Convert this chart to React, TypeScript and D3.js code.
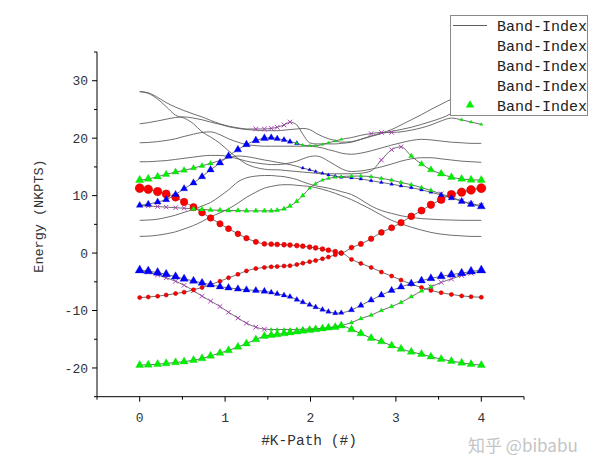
import React from 'react';
import * as d3 from 'd3';

// k-path grid (three path segments)
const K = [0, 0.10, 0.21, 0.31, 0.42, 0.52, 0.63, 0.73, 0.83, 0.94, 1.04, 1.15, 1.25, 1.36, 1.46,
  1.54, 1.61, 1.69, 1.76, 1.84, 1.91, 1.99, 2.06, 2.14, 2.21, 2.29, 2.36,
  2.48, 2.59, 2.71, 2.83, 2.95, 3.06, 3.18, 3.30, 3.41, 3.53, 3.65, 3.77, 3.88, 4.0];

// band energies (one value per k point)
const b1 = [-19.5, -19.45, -19.35, -19.2, -19.05, -18.9, -18.65, -18.35, -17.9, -17.4, -16.95, -16.35, -15.75, -15.05, -14.45,
  -14.3, -14.15, -14.0, -13.85, -13.7, -13.55, -13.4, -13.3, -13.15, -13.0, -12.9, -12.65,
  -13.3, -14.0, -14.8, -15.4, -16.1, -16.7, -17.2, -17.6, -18.05, -18.45, -18.8, -19.1, -19.35, -19.5];
const b2 = [-3.0, -3.3, -3.8, -4.3, -4.9, -5.6, -6.55, -7.5, -8.35, -9.3, -10.3, -11.3, -12.2, -12.9, -13.25,
  -13.3, -13.3, -13.3, -13.3, -13.3, -13.25, -13.2, -13.15, -13.1, -13.0, -12.8, -12.6,
  -12.1, -11.4, -10.8, -10.0, -9.3, -8.6, -7.6, -6.6, -5.9, -5.1, -4.5, -3.9, -3.5, -3.2];
const b3 = [-3.0, -3.15, -3.4, -3.7, -4.1, -4.5, -4.85, -5.2, -5.5, -5.85, -6.05, -6.25, -6.4, -6.5, -6.65,
  -6.85, -7.1, -7.35, -7.6, -8.1, -8.55, -9.0, -9.4, -9.85, -10.2, -10.45, -10.4,
  -9.9, -9.1, -8.2, -7.3, -6.5, -5.9, -5.3, -4.8, -4.4, -4.05, -3.75, -3.5, -3.2, -3.0];
const b4 = [-7.75, -7.65, -7.5, -7.3, -7.05, -6.8, -6.4, -6.0, -5.5, -4.9, -4.3, -3.7, -3.1, -2.7, -2.5,
  -2.4, -2.35, -2.25, -2.2, -2.0, -1.75, -1.5, -1.3, -1.0, -0.7, -0.3, 0.0,
  -1.1, -1.8, -2.5, -3.3, -4.0, -4.7, -5.4, -6.0, -6.5, -6.9, -7.2, -7.45, -7.6, -7.7];
const b5 = [11.3, 11.1, 10.7, 10.3, 9.7, 8.9, 8.0, 7.05, 6.1, 5.1, 4.25, 3.35, 2.6, 1.95, 1.6,
  1.55, 1.5, 1.45, 1.4, 1.3, 1.2, 1.05, 0.9, 0.7, 0.5, 0.25, 0.0,
  0.95, 1.6, 2.5, 3.6, 4.4, 5.3, 6.4, 7.4, 8.4, 9.3, 10.2, 10.6, 11.0, 11.3];
const m4 = [2.9, 2.95, 3.1, 3.35, 3.7, 4.2, 4.8, 5.5, 6.3, 7.0, 7.7, 8.7, 9.7, 10.6, 11.3,
  11.6, 11.8, 11.9, 11.9, 11.8, 11.7, 11.6, 11.4, 11.1, 10.8, 10.4, 10.0,
  9.3, 8.5, 7.6, 6.6, 5.7, 5.1, 4.5, 4.0, 3.6, 3.3, 3.1, 3.0, 2.9, 2.9];
const m3 = [5.7, 5.75, 5.9, 6.2, 6.6, 7.1, 7.6, 8.2, 8.8, 9.9, 11.0, 12.4, 13.1, 13.4, 13.5,
  13.5, 13.4, 13.3, 13.1, 12.8, 12.4, 12.0, 11.7, 11.5, 11.3, 11.0, 10.7,
  10.2, 9.3, 8.2, 7.4, 6.9, 6.5, 6.2, 6.0, 5.9, 5.8, 5.75, 5.7, 5.7, 5.7];
const m1 = [8.3, 8.2, 8.1, 8.0, 7.9, 7.8, 7.7, 7.6, 7.5, 7.45, 7.4, 7.4, 7.35, 7.35, 7.35,
  7.35, 7.45, 7.7, 8.2, 9.0, 10.0, 11.3, 12.1, 12.7, 13.0, 13.2, 13.3,
  13.4, 13.4, 13.3, 13.0, 12.7, 12.3, 11.9, 11.4, 10.9, 10.3, 9.7, 9.1, 8.6, 8.3];
const u6 = [8.3, 8.5, 8.9, 9.3, 10.2, 11.2, 12.2, 13.3, 14.5, 15.7, 16.9, 18.0, 18.9, 19.6, 20.0,
  20.1, 19.9, 19.7, 19.4, 19.1, 18.8, 18.7, 18.7, 18.9, 19.2, 19.5, 19.8,
  20.1, 20.5, 20.8, 21.0, 21.0, 21.1, 21.4, 21.8, 22.3, 23.0, 23.5, 23.2, 22.8, 22.4];
const ug = [12.7, 12.9, 13.3, 13.7, 14.1, 14.4, 14.8, 15.2, 15.6, 16.1, 16.6, 16.9, 16.8, 16.5, 16.2,
  16.0, 15.8, 15.6, 15.4, 15.1, 14.8, 14.5, 14.2, 13.9, 13.6, 13.4, 13.2,
  13.1, 12.9, 12.6, 12.3, 12.0, 11.7, 11.4, 11.0, 10.6, 10.1, 9.6, 9.0, 8.5, 8.1];
const u159 = [15.9, 15.9, 16.0, 16.1, 16.3, 16.5, 16.7, 16.9, 17.0, 17.0, 16.8, 16.4, 16.0, 15.7, 15.5,
  15.4, 15.4, 15.5, 15.7, 16.0, 16.4, 16.8, 16.9, 16.6, 16.0, 15.3, 14.7,
  14.2, 14.3, 14.6, 15.0, 15.5, 16.0, 16.4, 16.6, 16.6, 16.4, 16.2, 16.0, 15.9, 15.8];
const ub = [28.1, 27.8, 26.8, 25.5, 24.0, 23.5, 22.5, 21.1, 20.2, 19.1, 17.8, 16.5, 15.5, 14.9, 14.6,
  14.5, 14.5, 14.4, 14.3, 14.2, 14.1, 14.0, 13.9, 13.8, 13.8, 13.8, 13.8,
  13.8, 13.9, 14.3, 16.2, 18.0, 18.5, 16.9, 15.5, 14.5, 13.8, 13.2, 12.9, 12.75, 12.7];
const u192 = [19.2, 19.25, 19.4, 19.6, 19.9, 20.3, 20.7, 21.0, 21.1, 20.6, 19.9, 19.3, 18.9, 18.7, 18.6,
  18.6, 18.6, 18.6, 18.6, 18.6, 18.6, 18.6, 18.5, 18.3, 18.0, 17.7, 17.4,
  17.2, 17.4, 17.8, 18.3, 18.8, 19.2, 19.6, 19.8, 19.7, 19.5, 19.3, 19.2, 19.1, 19.1];
const u225 = [22.5, 22.7, 23.0, 23.3, 23.6, 23.7, 23.5, 23.2, 22.8, 22.4, 22.0, 21.7, 21.5, 21.4, 21.3,
  21.3, 21.3, 21.4, 21.5, 21.6, 21.7, 21.5, 20.9, 20.3, 19.9, 19.6, 19.3,
  19.4, 19.8, 20.3, 20.8, 21.2, 21.5, 21.9, 22.4, 22.9, 23.5, 24.3, 25.5, 26.9, 28.1];
const u1 = [28.1, 27.9, 27.1, 26.2, 25.4, 24.8, 24.2, 23.7, 23.1, 22.5, 22.1, 21.8, 21.6, 21.6, 21.6,
  21.7, 21.9, 22.3, 22.8, 22.3, 20.7, 19.2, 19.0, 19.0, 19.0, 19.0, 19.1,
  19.3, 19.8, 20.4, 20.9, 21.5, 22.3, 23.2, 24.1, 25.0, 25.9, 26.8, 27.5, 27.9, 28.1];

const BANDS: Record<string, number[]> = { b1, b2, b3, b4, b5, m4, m3, m1, u6, ug, u159, ub, u192, u225, u1 };

const X_TICKS = [0, 1, 2, 3, 4];
const X_MINOR = [-0.5, 0.5, 1.5, 2.5, 3.5, 4.5];
const Y_TICKS = [-20, -10, 0, 10, 20, 30];
const Y_MINOR = [-25, -15, -5, 5, 15, 25, 35];
const LEGEND_LABELS = ['Band-Index', 'Band-Index', 'Band-Index', 'Band-Index', 'Band-Index'];

// projection marker layers (style: which band, index range, marker size ramp)
type Layer = { band: string; from: number; to: number; s0: number; s1: number };
const PURPLE_LAYERS: Layer[] = [
  { band: 'b2', from: 1, to: 14, s0: 16, s1: 16 },
  { band: 'm1', from: 1, to: 6, s0: 14, s1: 14 },
  { band: 'u1', from: 13, to: 18, s0: 16, s1: 16 },
  { band: 'ub', from: 30, to: 32, s0: 14, s1: 14 },
  { band: 'm1', from: 36, to: 40, s0: 16, s1: 16 },
  { band: 'b2', from: 35, to: 39, s0: 18, s1: 18 },
  { band: 'u6', from: 29, to: 31, s0: 14, s1: 14 },
];
const RED_LAYERS: Layer[] = [
  { band: 'b5', from: 0, to: 14, s0: 4.4, s1: 2.4 },
  { band: 'b5', from: 15, to: 26, s0: 2.4, s1: 2.4 },
  { band: 'b5', from: 27, to: 40, s0: 2.4, s1: 4.5 },
  { band: 'b4', from: 0, to: 40, s0: 2.0, s1: 2.0 },
];
const BLUE_LAYERS: Layer[] = [
  { band: 'b3', from: 0, to: 14, s0: 36, s1: 20 },
  { band: 'b3', from: 15, to: 26, s0: 14, s1: 12 },
  { band: 'b3', from: 27, to: 40, s0: 16, s1: 36 },
  { band: 'u6', from: 0, to: 14, s0: 20, s1: 26 },
  { band: 'u6', from: 15, to: 19, s0: 20, s1: 10 },
  { band: 'ug', from: 20, to: 35, s0: 5, s1: 7 },
  { band: 'ug', from: 36, to: 40, s0: 14, s1: 28 },
];
const GREEN_LAYERS: Layer[] = [
  { band: 'b1', from: 0, to: 40, s0: 28, s1: 28 },
  { band: 'ug', from: 0, to: 8, s0: 30, s1: 12 },
  { band: 'm1', from: 6, to: 20, s0: 13, s1: 10 },
  { band: 'm1', from: 21, to: 26, s0: 6, s1: 6 },
  { band: 'm1', from: 27, to: 35, s0: 7, s1: 9 },
  { band: 'b2', from: 15, to: 26, s0: 5, s1: 5 },
  { band: 'b2', from: 27, to: 35, s0: 9, s1: 9 },
  { band: 'ub', from: 33, to: 35, s0: 12, s1: 22 },
  { band: 'ub', from: 36, to: 40, s0: 26, s1: 28 },
  { band: 'u6', from: 19, to: 26, s0: 4, s1: 4 },
  { band: 'u6', from: 38, to: 40, s0: 5, s1: 5 },
];

const W = 600, H = 470;
const xScale = d3.scaleLinear().domain([-0.5, 4.5]).range([97, 524]);
const yScale = d3.scaleLinear().domain([-25, 35]).range([396.7, 52]);
const FONT = '"Liberation Mono", "DejaVu Sans Mono", monospace';

function pts(layer: Layer) {
  const arr = BANDS[layer.band];
  const out: { x: number; y: number; s: number }[] = [];
  for (let i = layer.from; i <= layer.to; i++) {
    const t = layer.to === layer.from ? 0 : (i - layer.from) / (layer.to - layer.from);
    out.push({ x: xScale(K[i]), y: yScale(arr[i]), s: layer.s0 + (layer.s1 - layer.s0) * t });
  }
  return out;
}

export default function App() {
  const line = d3.line<number>().x((_, i) => xScale(K[i])).y((d) => yScale(d)).curve(d3.curveMonotoneX);
  const tri = (a: number) => d3.symbol().type(d3.symbolTriangle).size(a)() || '';
  const timesType: any = (d3 as any).symbolTimes || (d3 as any).symbolX || d3.symbolCross;
  const star = (a: number) => d3.symbol().type(timesType).size(a)() || '';
  const x0 = xScale(-0.5), x1 = xScale(4.5), y0 = yScale(-25), y1 = yScale(35);

  return (
    <svg width={W} height={H} style={{ position: 'absolute', left: 0, top: 0, background: '#fff' }}>
      <defs>
        <clipPath id="plotclip">
          <rect x={x0} y={y1} width={x1 - x0} height={y0 - y1} />
        </clipPath>
      </defs>
      <rect x={0} y={0} width={W} height={H} fill="#fff" />
      <g clipPath="url(#plotclip)">
        {Object.keys(BANDS).map((k) => (
          <path key={k} d={line(BANDS[k]) || ''} fill="none" stroke="#5e5e5e" strokeWidth={0.9} />
        ))}
        {PURPLE_LAYERS.flatMap(pts).map((p, i) => (
          <path key={'p' + i} d={star(p.s)} transform={`translate(${p.x},${p.y})`} fill="none" stroke="#b03cc0" strokeWidth={1} />
        ))}
        {RED_LAYERS.flatMap(pts).map((p, i) => (
          <circle key={'r' + i} cx={p.x} cy={p.y} r={p.s} fill="#ff0000" stroke="#c40000" strokeWidth={0.6} />
        ))}
        {BLUE_LAYERS.flatMap(pts).map((p, i) => (
          <path key={'b' + i} d={tri(p.s)} transform={`translate(${p.x},${p.y})`} fill="#0000ff" stroke="#0000c0" strokeWidth={0.3} />
        ))}
        {GREEN_LAYERS.flatMap(pts).map((p, i) => (
          <path key={'g' + i} d={tri(p.s)} transform={`translate(${p.x},${p.y})`} fill="#00f000" stroke="#00c800" strokeWidth={0.3} />
        ))}
      </g>

      {/* axes */}
      <line x1={x0} x2={x0} y1={y1} y2={y0} stroke="#000" strokeWidth={1} />
      <line x1={x0} x2={x1} y1={y0} y2={y0} stroke="#000" strokeWidth={1} />
      {Y_TICKS.map((t) => (
        <g key={'yt' + t}>
          <line x1={x0 - 5} x2={x0} y1={yScale(t)} y2={yScale(t)} stroke="#000" />
          <text x={x0 - 9} y={yScale(t)} dy="0.35em" textAnchor="end" fontFamily={FONT} fontSize={13} fill="#333">{t}</text>
        </g>
      ))}
      {Y_MINOR.map((t) => (
        <line key={'ym' + t} x1={x0 - 3} x2={x0} y1={yScale(t)} y2={yScale(t)} stroke="#000" />
      ))}
      {X_TICKS.map((t) => (
        <g key={'xt' + t}>
          <line x1={xScale(t)} x2={xScale(t)} y1={y0} y2={y0 + 5} stroke="#000" />
          <text x={xScale(t)} y={y0 + 25} textAnchor="middle" fontFamily={FONT} fontSize={13} fill="#333">{t}</text>
        </g>
      ))}
      {X_MINOR.map((t) => (
        <line key={'xm' + t} x1={xScale(t)} x2={xScale(t)} y1={y0} y2={y0 + 3} stroke="#000" />
      ))}
      <text x={309} y={445} textAnchor="middle" fontFamily={FONT} fontSize={14.5} fill="#333">#K-Path (#)</text>
      <text transform="translate(43,216) rotate(-90)" textAnchor="middle" fontFamily={FONT} fontSize={13.5} fill="#333">Energy (NKPTS)</text>

      {/* legend */}
      <rect x={450.5} y={15.5} width={137} height={100} fill="#fff" stroke="#8a8a8a" strokeWidth={1} />
      <line x1={453} x2={487} y1={25.5} y2={25.5} stroke="#5e5e5e" strokeWidth={1} />
      <path d={tri(30)} transform="translate(470,105)" fill="#00f000" />
      {LEGEND_LABELS.map((l, i) => (
        <text key={'lg' + i} x={497} y={25.5 + i * 20} dy="0.35em" fontFamily={FONT} fontSize={15} fill="#222">{l}</text>
      ))}

      {/* watermark */}
      <text x={468} y={452} fontFamily='"Noto Sans CJK SC", "Noto Sans", sans-serif' fontSize={17} fill="#c4c4c4">知乎 @bibabu</text>
    </svg>
  );
}
